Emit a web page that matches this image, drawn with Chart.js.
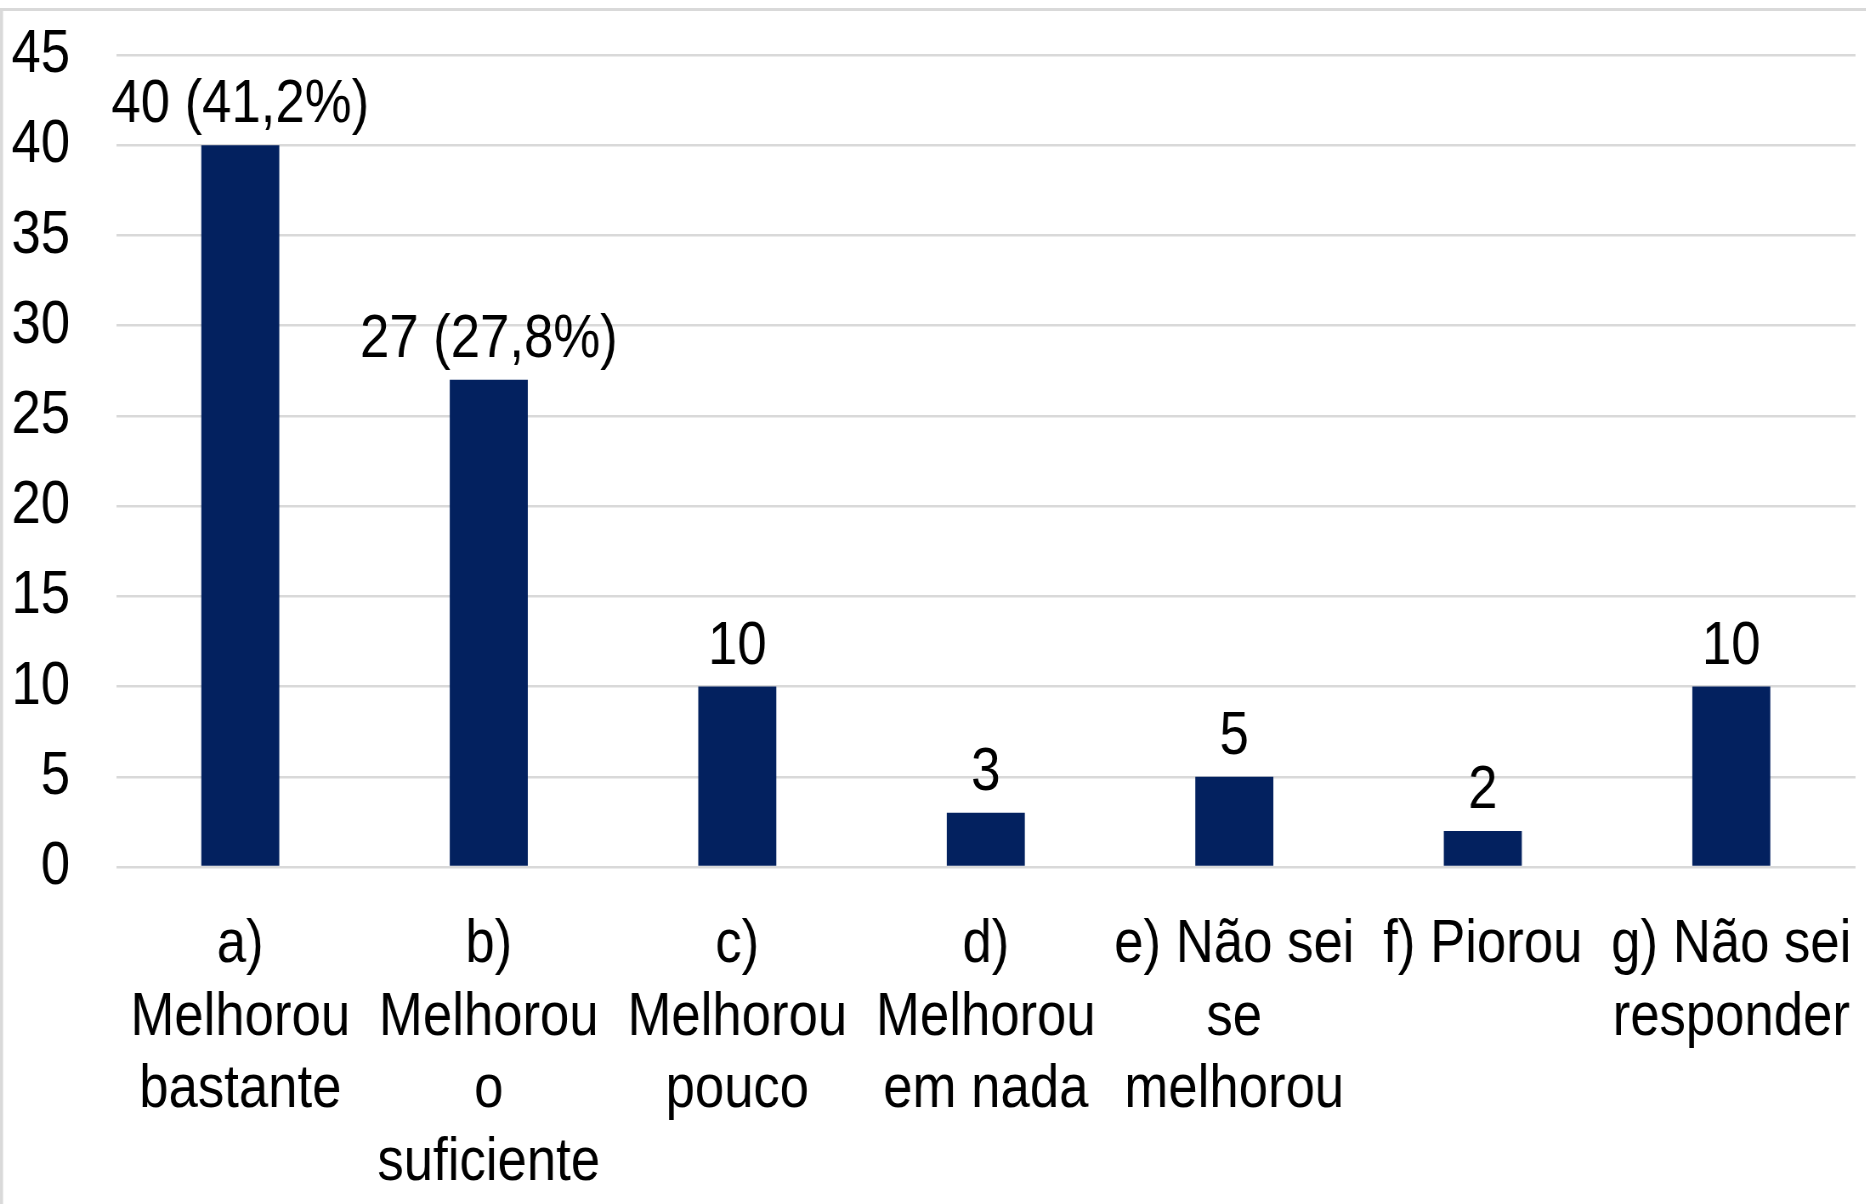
<!DOCTYPE html>
<html>
<head>
<meta charset="utf-8">
<script src="https://cdn.jsdelivr.net/npm/chart.js@4"></script>
<style>
  html, body { margin: 0; padding: 0; background: #fff; overflow: hidden; }
  /* the original uses a narrow font; no narrow face is installed, so the
     whole canvas is drawn wider and squeezed back horizontally */
  #wrap { width: 2195px; height: 1204px; transform: scaleX(0.85); transform-origin: 0 0; }
</style>
</head>
<body>
<div id="wrap"><canvas id="myChart" width="2195" height="1204"></canvas></div>
<script>
var categories = [
  ["a)", "Melhorou", "bastante"],
  ["b)", "Melhorou", "o", "suficiente"],
  ["c)", "Melhorou", "pouco"],
  ["d)", "Melhorou", "em nada"],
  ["e) Não sei", "se", "melhorou"],
  ["f) Piorou"],
  ["g) Não sei", "responder"]
];
var values = [40, 27, 10, 3, 5, 2, 10];
var percents = ["41,2%", "27,8%", null, null, null, null, null];
var yTicks = [0, 5, 10, 15, 20, 25, 30, 35, 40, 45];

var FONT = "'Liberation Sans', Arial, sans-serif";

// frame lines around the chart (top + left edge)
var framePlugin = {
  id: 'frame',
  beforeDraw: function(chart) {
    var c = chart.ctx;
    c.save();
    c.strokeStyle = '#d9d9d9';
    c.lineWidth = 3;
    c.beginPath();
    c.moveTo(0, 9.5);
    c.lineTo(chart.width, 9.5);
    c.stroke();
    c.lineWidth = 3.5;
    c.beginPath();
    c.moveTo(1.8, 9.5);
    c.lineTo(1.8, chart.height);
    c.stroke();
    c.restore();
  }
};

// value labels above bars
var labelPlugin = {
  id: 'barLabels',
  afterDatasetsDraw: function(chart) {
    var c = chart.ctx;
    var meta = chart.getDatasetMeta(0);
    c.save();
    c.font = '62px ' + FONT;
    c.fillStyle = '#000';
    c.textAlign = 'center';
    c.textBaseline = 'alphabetic';
    meta.data.forEach(function(bar, i) {
      var txt = String(values[i]);
      if (percents[i]) txt += ' (' + percents[i] + ')';
      c.fillText(txt, bar.x, bar.y - 23);
    });
    c.restore();
  }
};

var ctx = document.getElementById('myChart').getContext('2d');
var myChart = new Chart(ctx, {
  type: 'bar',
  data: {
    labels: categories,
    datasets: [{
      data: values,
      backgroundColor: '#03215f',
      barPercentage: 0.628,
      categoryPercentage: 0.5
    }]
  },
  options: {
    responsive: false,
    animation: false,
    layout: { padding: { top: 55, right: 12, left: 0, bottom: 0 } },
    plugins: {
      legend: { display: false },
      tooltip: { enabled: false }
    },
    scales: {
      x: {
        grid: { display: false, drawTicks: false },
        border: { display: false },
        ticks: {
          color: '#000',
          font: { family: FONT, size: 62, lineHeight: 1.17 },
          padding: 42,
          maxRotation: 0,
          autoSkip: false
        },
        afterFit: function(s) {
          s.height = 1204 - 867;
          s.paddingLeft = 0;
          s.paddingRight = 0;
        }
      },
      y: {
        min: 0,
        max: 45,
        afterBuildTicks: function(s) {
          s.ticks = yTicks.map(function(v) { return { value: v }; });
        },
        grid: { color: '#d9d9d9', lineWidth: 2.5, drawTicks: false },
        border: { display: false },
        ticks: {
          color: '#000',
          font: { family: FONT, size: 62 },
          padding: 54
        },
        afterFit: function(s) {
          s.width = 136.5;
          s.paddingTop = 0;
          s.paddingBottom = 0;
        }
      }
    }
  },
  plugins: [framePlugin, labelPlugin]
});
</script>
</body>
</html>
